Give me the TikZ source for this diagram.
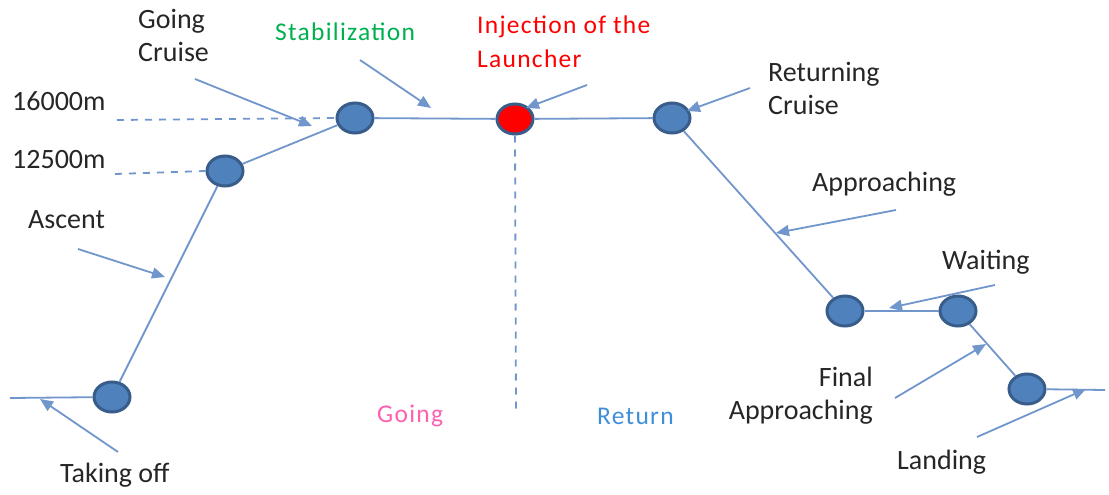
\documentclass[tikz,border=0pt]{standalone}
\usepackage{fontspec}
\setmainfont{Carlito}
\usetikzlibrary{shapes.geometric,arrows.meta}
\definecolor{lineblue}{HTML}{7096CC}
\definecolor{nodefill}{HTML}{4F81BD}
\definecolor{nodedraw}{HTML}{385D8A}
\definecolor{txtgray}{HTML}{262626}
\definecolor{stabgreen}{HTML}{00B050}
\definecolor{goingpink}{HTML}{FF5FB0}
\definecolor{retblue}{HTML}{3F8FD8}
\tikzset{
  stage/.style={ellipse, draw=nodedraw, fill=nodefill, line width=3pt, minimum width=36pt, minimum height=30pt, inner sep=0pt},
  redstage/.style={stage, fill=red},
  path/.style={draw=lineblue, line width=1.8pt},
  guide/.style={draw=lineblue, line width=1.8pt, dash pattern=on 7pt off 7pt},
  pointer/.style={draw=lineblue, line width=1.8pt, -{Triangle[length=13pt,width=11pt]}},
  lbl/.style={text=txtgray, font=\fontsize{28}{33}\selectfont, inner sep=0pt, align=left},
  clbl/.style={inner sep=0pt, font=\fontsize{25.5}{34}\selectfont\addfontfeature{LetterSpace=5}, align=left}
}
\begin{document}
\begin{tikzpicture}[x=1pt,y=-1pt]
\useasboundingbox (0,0) rectangle (1109,495);
% stages
\node[stage] (n1) at (112,397) {};
\node[stage] (n2) at (225,171) {};
\node[stage] (n3) at (355,118) {};
\node[redstage] (n4) at (515,119) {};
\node[stage] (n5) at (672,118) {};
\node[stage] (n6) at (845,311) {};
\node[stage] (n7) at (958,311) {};
\node[stage] (n8) at (1027,389) {};
% free ends
\coordinate (start) at (10,398);
\coordinate (finish) at (1105,390);
\coordinate (d16) at (117,120);
\coordinate (d12) at (115,174);
\coordinate (vbot) at (516,412);
% flight path
\draw[path] (start) -- (n1);
\draw[path] (n1) -- (n2);
\draw[path] (n2) -- (n3);
\draw[path] (n3) -- (n4);
\draw[path] (n4) -- (n5);
\draw[path] (n5) -- (n6);
\draw[path] (n6) -- (n7);
\draw[path] (n7) -- (n8);
\draw[path] (n8) -- (finish);
% guides
\draw[guide] (d16) -- (n3.west);
\draw[guide] (d12) -- (n2.west);
\draw[guide] (n4.south) -- (vbot);
% pointer coordinates
\coordinate (pTo0) at (118,452); \coordinate (pTo1) at (40,399);
\coordinate (pAs0) at (78,249); \coordinate (pAs1) at (165,277);
\coordinate (pGc0) at (195,79); \coordinate (pGc1) at (312,126);
\coordinate (pSt0) at (360,60); \coordinate (pSt1) at (431,108);
\coordinate (pIn0) at (587,85); \coordinate (pIn1) at (526,108);
\coordinate (pRc0) at (750,88); \coordinate (pRc1) at (687,111);
\coordinate (pAp0) at (896,210); \coordinate (pAp1) at (776,233);
\coordinate (pWa0) at (995,285); \coordinate (pWa1) at (889,308);
\coordinate (pFa0) at (895,398); \coordinate (pFa1) at (986,344);
\coordinate (pLa0) at (977,437); \coordinate (pLa1) at (1086,389);
\draw[pointer] (pTo0) -- (pTo1);
\draw[pointer] (pAs0) -- (pAs1);
\draw[pointer] (pGc0) -- (pGc1);
\draw[pointer] (pSt0) -- (pSt1);
\draw[pointer] (pIn0) -- (pIn1);
\draw[pointer] (pRc0) -- (pRc1);
\draw[pointer] (pAp0) -- (pAp1);
\draw[pointer] (pWa0) -- (pWa1);
\draw[pointer] (pFa0) -- (pFa1);
\draw[pointer] (pLa0) -- (pLa1);
% labels
\node[lbl, anchor=west] (lgc) at (138,35) {Going\\Cruise};
\node[clbl, text=stabgreen, anchor=west] (lst) at (275,32) {Stabilization};
\node[clbl, text=red, anchor=west] (lin) at (477,42) {Injection of the\\Launcher};
\node[lbl, anchor=west] (l16) at (12,101) {16000m};
\node[lbl, anchor=west] (l12) at (12,160) {12500m};
\node[lbl, anchor=west] (las) at (28,220) {Ascent};
\node[lbl, anchor=west] (lto) at (60,475) {Taking off};
\node[clbl, text=goingpink, anchor=west] (lgo) at (377,416) {Going};
\node[clbl, text=retblue, anchor=west] (lre) at (597,416) {Return};
\node[lbl, anchor=west] (lrc) at (768,88) {Returning\\Cruise};
\node[lbl, anchor=west] (lap) at (812,184) {Approaching};
\node[lbl, anchor=west] (lwa) at (942,262) {Waiting};
\node[lbl, anchor=east, align=right] (lfa) at (873,396) {Final\\Approaching};
\node[lbl, anchor=west] (lla) at (897,462) {Landing};
\end{tikzpicture}
\end{document}
